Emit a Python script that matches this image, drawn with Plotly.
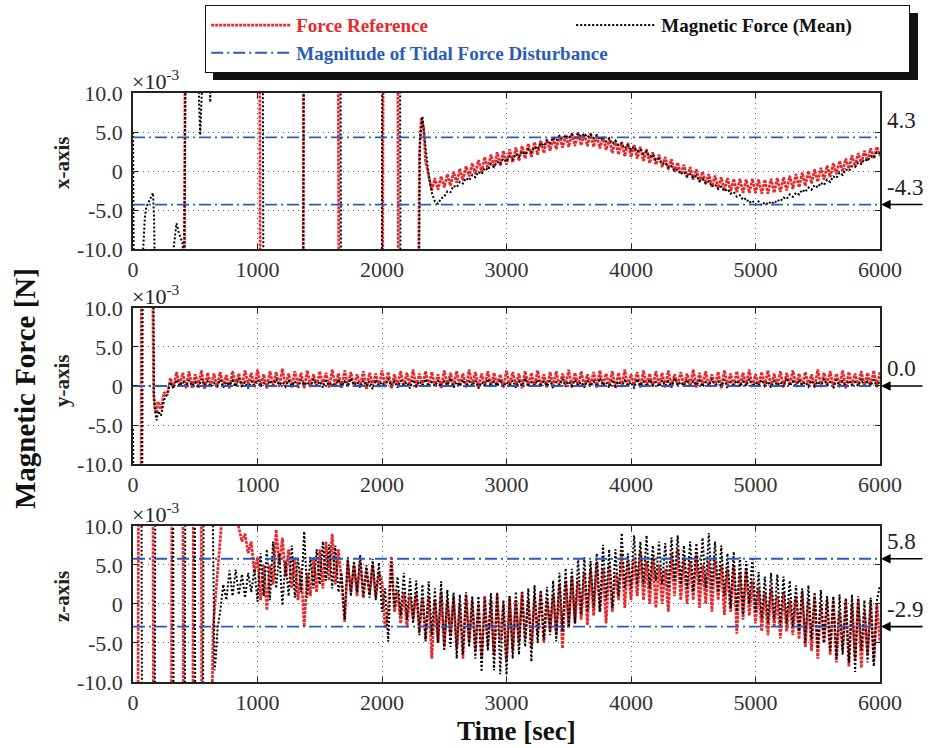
import plotly.graph_objects as go

FONT = "Liberation Serif, Times New Roman, serif"
RED = "#e8282b"
BLACK = "#000000"
BLUE = "#2b5db8"
STEP = 25  # seconds between samples of the dense records

# ---------------- common axis data ----------------
TIME_TICKS = [0, 1000, 2000, 3000, 4000, 5000, 6000]
FORCE_TICKS = [-10, -5, 0, 5, 10]
FORCE_TICK_TEXT = ["-10.0", "-5.0", "0", "5.0", "10.0"]

# ---------------- x-axis panel (values in 1e-3 N) ----------------
X_REF_EARLY_T = [0, 412, 420, 1016, 1024, 1365, 1372, 1647, 1655, 2004, 2011, 2125, 2133, 2288, 2300, 2315, 2335]
X_REF_EARLY_V = [-30, -30, 30, 30, -30, -30, 30, 30, -30, -30, 30, 30, -30, -30, 2.0, 6.8, 5.5]
X_REF_T0 = 2350
X_REF = [
    1.2, -0.6, -2.5, -0.9, -2.4, -0.7, -2.1, -0.4, -1.9, -0.1,
    -1.5, 0.3, -1.2, 0.6, -0.7, 1.0, -0.4, 1.4, -0.1, 1.8,
    0.3, 2.1, 0.5, 2.4, 0.7, 2.6, 0.8, 2.8, 1.1, 3.0,
    1.3, 3.2, 1.6, 3.5, 1.8, 3.7, 2.1, 3.9, 2.3, 4.1,
    2.6, 4.3, 2.8, 4.5, 3.0, 4.6, 3.1, 4.8, 3.2, 4.9,
    3.3, 4.8, 3.2, 4.8, 3.1, 4.6, 2.9, 4.4, 2.7, 4.1,
    2.3, 3.9, 2.1, 3.7, 1.9, 3.6, 1.8, 3.4, 1.6, 3.1,
    1.3, 2.8, 1.0, 2.4, 0.8, 2.1, 0.5, 1.8, 0.2, 1.5,
    -0.1, 1.1, -0.4, 0.8, -0.8, 0.5, -1.1, 0.2, -1.4, -0.1,
    -1.6, -0.4, -2.0, -0.6, -2.2, -0.8, -2.5, -0.9, -2.6, -1.0,
    -2.7, -1.0, -2.8, -1.1, -2.8, -1.0, -2.8, -1.1, -2.9, -1.1,
    -2.9, -1.0, -2.8, -0.9, -2.7, -0.8, -2.5, -0.6, -2.3, -0.4,
    -2.1, -0.2, -1.9, 0.0, -1.6, 0.2, -1.4, 0.4, -1.1, 0.7,
    -0.8, 1.0, -0.4, 1.3, -0.1, 1.6, 0.3, 2.0, 0.6, 2.3,
    1.0, 2.6, 1.3, 2.9, 1.6, 3.1, 1.9,
]
X_MAG_EARLY_T = [0, 12, 72, 80, 95, 107, 134, 161, 169, 180, 190, 315, 322, 349, 370, 397, 410, 430,
                 520, 530, 540, 550, 560, 610, 620, 630, 1040, 1050, 1366, 1373, 1665, 1673, 1997,
                 2004, 2143, 2151, 2290, 2305, 2325, 2340]
X_MAG_EARLY_V = [5.0, -30, -30, -10.5, -6.0, -4.6, -3.7, -2.8, -5.9, -12, -30, -30, -10.5, -6.7, -8.0, -9.2, -12, 30,
                 30, 9.0, 4.6, 9.0, 30, 30, 8.8, 30, 30, -30, -30, 30, 30, -30, -30,
                 30, 30, -30, -30, 4.0, 7.0, 5.0]
X_MAG_T0 = 2350
X_MAG = [
    3.0, -0.5, -2.8, -3.9, -4.2, -3.5, -3.3, -2.6, -2.7, -1.9,
    -2.1, -1.4, -1.6, -0.9, -1.2, -0.5, -0.8, -0.1, -0.4, 0.4,
    0.1, 0.9, 0.5, 1.2, 0.9, 1.6, 1.2, 1.9, 1.5, 2.2,
    1.8, 2.5, 2.1, 2.8, 2.4, 3.1, 2.8, 3.6, 3.2, 3.9,
    3.6, 4.3, 3.9, 4.5, 4.1, 4.6, 4.2, 4.7, 4.3, 4.8,
    4.4, 4.8, 4.3, 4.7, 4.2, 4.6, 4.0, 4.4, 3.8, 4.2,
    3.5, 3.9, 3.3, 3.6, 2.9, 3.3, 2.7, 3.1, 2.5, 2.8,
    2.2, 2.5, 1.8, 2.1, 1.4, 1.6, 0.9, 1.1, 0.4, 0.6,
    0.0, 0.2, -0.4, -0.1, -0.7, -0.4, -0.9, -0.6, -1.3, -1.0,
    -1.6, -1.3, -2.0, -1.7, -2.3, -2.0, -2.6, -2.3, -2.9, -2.7,
    -3.3, -3.1, -3.7, -3.5, -4.1, -3.8, -4.3, -3.9, -4.4, -4.0,
    -4.3, -3.9, -4.2, -3.7, -3.9, -3.4, -3.6, -3.0, -3.3, -2.8,
    -3.0, -2.4, -2.7, -2.1, -2.4, -1.8, -2.1, -1.5, -1.8, -1.1,
    -1.4, -0.7, -0.9, -0.2, -0.5, 0.2, 0.0, 0.6, 0.5, 1.1,
    0.9, 1.5, 1.3, 1.9, 1.7, 2.4, 2.2,
]
X_TIDAL = [4.3, -4.3]
X_ARROWS = [-4.3]

# ---------------- y-axis panel ----------------
Y_REF_EARLY_T = [0, 62, 70, 150, 165, 175, 185]
Y_REF_EARLY_V = [-30, -30, 30, 30, -1.0, -2.8, -3.5]
Y_REF_T0 = 200
Y_REF = [
    -2.0, -3.0, -0.8, -1.2, 1.0, -0.2, 1.8, 0.0, 1.7, -0.3,
    1.9, -0.3, 1.5, 0.1, 2.0, -0.4, 1.7, 0.0, 1.6, -0.2,
    1.8, 0.1, 1.4, -0.3, 1.9, 0.0, 1.6, -0.1, 2.0, 0.2,
    1.7, -0.2, 2.1, 0.0, 1.5, -0.3, 1.9, 0.1, 1.8, -0.1,
    2.2, 0.0, 1.6, -0.2, 1.9, 0.1, 1.7, -0.3, 2.0, 0.0,
    1.5, -0.1, 1.9, 0.2, 1.7, -0.2, 2.1, 0.0, 1.6, -0.3,
    2.0, 0.1, 1.8, -0.1, 1.5, 0.0, 1.9, -0.4, 1.7, 0.1,
    1.6, -0.2, 2.0, 0.0, 1.8, -0.3, 1.5, 0.1, 1.9, -0.1,
    1.7, 0.0, 2.1, -0.2, 1.6, 0.1, 1.9, -0.1, 1.8, 0.0,
    1.5, -0.3, 2.0, 0.1, 1.7, -0.1, 1.9, 0.0, 1.6, -0.2,
    2.1, 0.1, 1.8, -0.2, 1.6, 0.0, 1.9, -0.1, 1.7, 0.1,
    1.5, -0.2, 2.0, 0.0, 1.8, 0.1, 1.6, -0.3, 1.9, 0.0,
    1.7, -0.1, 2.0, 0.1, 1.5, -0.2, 1.8, 0.0, 1.9, -0.1,
    1.6, 0.1, 2.1, -0.2, 1.7, 0.0, 1.9, -0.1, 1.5, 0.1,
    1.8, -0.2, 2.0, 0.0, 1.6, 0.1, 1.9, -0.3, 1.7, 0.0,
    2.1, -0.1, 1.5, 0.1, 1.8, -0.2, 2.0, 0.0, 1.6, -0.1,
    1.9, 0.1, 1.7, -0.2, 2.0, 0.0, 1.5, 0.1, 1.8, -0.1,
    1.6, 0.0, 2.1, -0.2, 1.7, 0.1, 1.9, -0.1, 1.5, 0.0,
    1.8, -0.3, 2.0, 0.1, 1.6, -0.1, 1.9, 0.0, 1.7, 0.1,
    2.1, -0.2, 1.5, 0.0, 1.8, 0.1, 2.0, -0.1, 1.6, 0.0,
    1.9, -0.2, 1.7, 0.1, 2.0, 0.0, 1.6, -0.1, 1.8, 0.1,
    1.5, -0.2, 2.1, 0.0, 1.7, 0.1, 1.9, -0.1, 1.6, 0.0,
    2.0, -0.3, 1.8, 0.1, 1.6, 0.0, 1.9, -0.1, 1.7, 0.1,
    2.0, -0.1, 1.8,
]
Y_MAG_EARLY_T = [0, 10, 72, 80, 157, 170, 180, 190]
Y_MAG_EARLY_V = [-5.5, -30, -30, 30, 30, -1.5, -3.5, -4.4]
Y_MAG_T0 = 200
Y_MAG = [
    -3.2, -3.8, -1.8, -1.0, 0.5, -0.3, 0.8, 0.0, 0.6, -0.1,
    0.7, 0.0, 0.5, -0.3, 0.9, 0.1, 0.6, -0.1, 0.4, 0.0,
    0.8, -0.2, 0.5, 0.1, 0.7, -0.1, 1.0, 0.0, 0.5, -0.3,
    0.6, 0.1, 0.8, -0.1, 0.4, 0.0, 0.7, -0.2, 0.9, 0.1,
    0.5, -0.1, 0.7, 0.0, 0.6, -0.3, 0.8, 0.1, 0.5, -0.1,
    0.9, 0.0, 0.6, -0.2, 0.7, 0.1, 0.4, -0.1, 0.8, 0.0,
    0.6, -0.1, 1.0, 0.1, 0.5, -0.2, 0.7, 0.0, 0.6, -0.4,
    0.8, 0.1, 0.5, -0.1, 0.9, 0.0, 0.6, -0.2, 0.7, 0.1,
    0.5, -0.3, 0.8, 0.0, 0.6, 0.1, 0.9, -0.1, 0.5, 0.0,
    0.7, -0.1, 0.6, 0.1, 1.0, -0.2, 0.5, 0.0, 0.8, -0.1,
    0.6, 0.0, 0.7, -0.3, 0.5, 0.1, 0.9, -0.1, 0.6, 0.0,
    0.8, -0.1, 0.5, 0.1, 0.7, -0.2, 0.6, 0.0, 1.0, -0.1,
    0.5, 0.1, 0.8, -0.1, 0.6, 0.0, 0.7, -0.3, 0.5, 0.1,
    0.9, -0.1, 0.6, 0.0, 0.8, 0.1, 0.5, -0.2, 0.7, 0.0,
    0.6, -0.1, 1.0, 0.1, 0.5, -0.2, 0.8, 0.0, 0.6, -0.1,
    0.7, 0.1, 0.5, -0.3, 0.9, 0.0, 0.6, -0.1, 0.8, 0.1,
    0.5, -0.1, 0.7, 0.0, 0.6, -0.2, 1.0, 0.1, 0.5, 0.0,
    0.8, -0.2, 0.6, 0.1, 0.7, -0.1, 0.5, 0.0, 0.9, -0.1,
    0.6, 0.0, 0.8, -0.3, 0.5, 0.1, 0.7, -0.1, 0.6, 0.0,
    0.9, -0.1, 0.5, 0.1, 0.8, 0.0, 0.6, -0.2, 0.7, 0.1,
    0.5, -0.1, 1.0, 0.0, 0.6, -0.2, 0.8, 0.1, 0.5, -0.1,
    0.7, 0.0, 0.6, -0.1, 0.9, 0.1, 0.5, -0.3, 0.8, 0.0,
    0.6, -0.1, 0.7, 0.1, 0.5, 0.0, 0.9, -0.2, 0.6, 0.1,
    0.8, -0.1, 0.7,
]
Y_TIDAL = [0.0]
Y_ARROWS = [0.0]

# ---------------- z-axis panel ----------------
Z_REF_EARLY_T = [0, 38, 46, 158, 166, 306, 314, 399, 407, 479, 487, 546, 554, 622, 643, 660, 680,
                 700, 712, 725, 820, 840]
Z_REF_EARLY_V = [-30, -30, 30, 30, -30, -30, 30, 30, -30, -30, 30, 30, -30, -30, -3.1, 0.5, 4.5,
                 8.0, 10.5, 30, 30, 10.5]
Z_REF_T0 = 850
Z_REF = [
    9.8, 8.0, 9.0, 6.5, 8.0, 4.0, 6.0, 0.5, 5.0, -0.8,
    5.0, 2.5, 9.5, 5.0, 8.5, 3.5, 7.0, 2.0, 6.0, 0.5,
    4.5, -2.9, 4.0, 1.0, 6.0, 1.5, 7.0, 2.0, 8.0, 3.0,
    9.0, 2.5, 7.0, 3.0, -2.3, 5.5, 1.5, 5.0, 1.0, 5.5,
    0.8, 4.5, 1.2, 5.0, 0.8, 4.0, 3.0, -3.1, -1.0, 6.1,
    -1.0, 1.6, -2.5, 1.5, -3.0, 1.0, -2.0, 1.5, -3.5, 0.8,
    -4.5, 1.0, -7.0, 0.5, -5.0, 1.6, -5.5, 0.5, -4.0, 1.0,
    -5.7, 0.0, -7.0, 1.2, -5.0, 0.5, -6.0, 0.0, -7.0, 1.0,
    -5.5, 0.5, -6.5, 1.2, -5.0, 0.0, -7.4, 1.0, -6.0, 0.5,
    -5.0, 1.6, -4.5, 0.5, -5.7, 1.0, -4.0, 1.5, -5.0, 0.5,
    -3.5, 1.2, -4.0, 2.5, -5.7, 2.9, -3.0, 3.5, -2.5, 3.0,
    -2.0, 4.0, -2.7, 4.5, -1.5, 5.4, -1.0, 4.5, -2.5, 5.0,
    -1.0, 4.0, 0.5, 6.5, -0.5, 5.5, 0.5, 6.0, 1.0, 6.7,
    0.5, 5.5, 0.0, 6.0, -0.5, 5.0, 0.0, 4.5, -1.0, 6.5,
    1.0, 7.0, 0.5, 6.0, 0.0, 5.5, 0.5, 6.3, -0.5, 5.0,
    0.0, 5.5, -1.0, 6.0, 0.5, 5.0, -1.4, 4.5, -1.0, 5.0,
    -3.8, 4.0, -2.0, 4.5, -1.5, 3.0, -2.5, 2.0, -3.5, 1.5,
    -4.0, 2.0, -3.0, 1.0, -4.4, 1.5, -3.5, 0.5, -4.0, 1.0,
    -4.5, 1.6, -5.5, 0.5, -6.0, 1.0, -7.0, 0.0, -5.0, 0.5,
    -6.5, 0.7, -7.5, -1.0, -6.0, 0.5, -8.0, 0.0, -7.0, 0.7,
    -8.2, -1.0, -6.5, 0.5, -7.5, 0.0, -5.0,
]
Z_MAG_EARLY_T = [0, 66, 74, 173, 181, 320, 328, 414, 422, 494, 502, 561, 569, 628, 655, 665, 680]
Z_MAG_EARLY_V = [30, 30, -30, -30, 30, 30, -30, -30, 30, 30, -30, -30, 30, 30, -8.5, -7.0, -3.0]
Z_MAG_T0 = 700
Z_MAG = [
    -1.0, 2.5, 0.5, 4.3, 1.0, 4.4, 1.2, 3.8, 0.8, 4.0,
    1.5, 4.5, 0.3, 6.5, 1.0, 7.0, 0.5, 8.0, 2.0, 6.5,
    -0.2, 5.5, 1.0, 7.5, 0.8, 6.0, 1.5, 9.3, 0.8, 6.0,
    2.0, 7.0, 2.5, 8.0, 3.0, 7.6, 2.0, 7.5, 1.5, 4.0,
    -2.0, 6.0, 1.0, 5.5, 1.5, 6.3, 1.0, 5.0, 0.8, 5.8,
    0.5, 5.3, -1.0, 2.0, -4.8, 5.4, -0.5, 3.5, -1.5, 4.0,
    -2.0, 3.3, -2.5, 3.0, -4.0, 2.5, -4.8, 2.9, -4.0, 2.0,
    -5.0, 2.9, -6.0, 1.8, -5.5, 1.5, -7.0, 1.2, -6.5, 1.5,
    -5.5, 1.0, -7.0, 1.0, -8.7, 0.8, -6.0, 1.4, -8.5, 1.5,
    -9.0, 0.5, -9.1, 1.0, -7.0, 1.6, -6.5, 1.5, -5.5, 2.0,
    -7.4, 2.4, -5.0, 1.8, -4.5, 2.2, -4.0, 3.0, -4.8, 4.0,
    -3.5, 4.6, -3.0, 4.5, -2.5, 5.9, -1.4, 6.0, -1.0, 5.5,
    -0.5, 6.5, -1.0, 7.6, 0.5, 7.0, -0.5, 7.0, 1.0, 9.1,
    2.0, 6.5, 2.0, 8.8, 2.5, 8.0, 2.5, 8.8, 2.0, 7.5,
    3.0, 8.0, 2.5, 7.8, 2.0, 8.5, 3.0, 8.8, 2.5, 7.5,
    2.0, 8.0, 1.6, 7.8, 2.5, 8.5, 2.0, 9.1, 2.0, 8.0,
    1.5, 7.5, 1.0, 6.5, -0.5, 6.7, -1.0, 6.0, -1.4, 5.5,
    0.0, 6.0, -1.0, 4.1, -2.0, 3.5, -2.5, 4.0, -2.0, 3.8,
    -2.7, 3.5, -2.5, 3.0, -3.0, 2.4, -3.5, 2.0, -5.0, 2.4,
    -4.5, 1.5, -5.7, 1.8, -5.0, 1.0, -6.0, 1.0, -7.0, 1.2,
    -6.5, 0.8, -7.5, 1.2, -8.7, 1.0, -6.0, 0.5, -7.5, 0.8,
    -8.0, 0.5, 2.4,
]
Z_TIDAL = [5.8, -2.9]
Z_ARROWS = [5.8, -2.9]


def series_time(early_t, t0, dense):
    return list(early_t) + [t0 + STEP * i for i in range(len(dense))]


def tidal_xy(levels):
    xs, ys = [], []
    for lv in levels:
        xs += [TIME_TICKS[0], TIME_TICKS[-1], None]
        ys += [lv, lv, None]
    return xs, ys


panels = [
    dict(name="x-axis", ax="x", ay="y",
         ref_t=series_time(X_REF_EARLY_T, X_REF_T0, X_REF), ref_v=X_REF_EARLY_V + X_REF,
         mag_t=series_time(X_MAG_EARLY_T, X_MAG_T0, X_MAG), mag_v=X_MAG_EARLY_V + X_MAG,
         tidal=X_TIDAL, arrows=X_ARROWS, domain=[0.7351, 1.0], label_y=0.8812),
    dict(name="y-axis", ax="x2", ay="y2",
         ref_t=series_time(Y_REF_EARLY_T, Y_REF_T0, Y_REF), ref_v=Y_REF_EARLY_V + Y_REF,
         mag_t=series_time(Y_MAG_EARLY_T, Y_MAG_T0, Y_MAG), mag_v=Y_MAG_EARLY_V + Y_MAG,
         tidal=Y_TIDAL, arrows=Y_ARROWS, domain=[0.3701, 0.6350], label_y=0.5110),
    dict(name="z-axis", ax="x3", ay="y3",
         ref_t=series_time(Z_REF_EARLY_T, Z_REF_T0, Z_REF), ref_v=Z_REF_EARLY_V + Z_REF,
         mag_t=series_time(Z_MAG_EARLY_T, Z_MAG_T0, Z_MAG), mag_v=Z_MAG_EARLY_V + Z_MAG,
         tidal=Z_TIDAL, arrows=Z_ARROWS, domain=[0.0, 0.2649], label_y=0.1443),
]

fig = go.Figure()
annotations = []
first = True
for p in panels:
    fig.add_trace(go.Scatter(
        x=p["ref_t"], y=p["ref_v"], xaxis=p["ax"], yaxis=p["ay"], mode="lines",
        name="<b><span style='color:%s'>Force Reference</span></b>" % RED,
        line=dict(color=RED, width=2.7, dash="3px,1px"), showlegend=first, legendrank=1,
        legendwidth=270))
    fig.add_trace(go.Scatter(
        x=p["mag_t"], y=p["mag_v"], xaxis=p["ax"], yaxis=p["ay"], mode="lines",
        name="<b><span style='color:#111'>Magnetic Force (Mean)</span></b>",
        line=dict(color=BLACK, width=2.0, dash="2px,2px"), showlegend=first, legendrank=2,
        legendwidth=242))
    tx, ty = tidal_xy(p["tidal"])
    fig.add_trace(go.Scatter(
        x=tx, y=ty, xaxis=p["ax"], yaxis=p["ay"], mode="lines",
        name="<b><span style='color:%s'>Magnitude of Tidal Force Disturbance</span></b>" % BLUE,
        line=dict(color=BLUE, width=1.8, dash="12px,4px,2px,4px"), showlegend=first, legendrank=3,
        legendwidth=270))
    first = False

    yref = p["ay"]
    xref = p["ax"]
    for lv in p["tidal"]:
        annotations.append(dict(x=TIME_TICKS[-1], y=lv, xref=xref, yref=yref, text="%.1f" % lv,
                                showarrow=False, xanchor="left", yanchor="middle", xshift=5, yshift=17,
                                font=dict(family=FONT, size=23, color="#222")))
    for lv in p["arrows"]:
        annotations.append(dict(x=TIME_TICKS[-1], y=lv, xref=xref, yref=yref, text="",
                                showarrow=True, ax=44, ay=0, arrowhead=2, arrowsize=1.2,
                                arrowwidth=1.6, arrowcolor="#000", standoff=1))
    annotations.append(dict(x=0, y=p["domain"][1], xref="paper", yref="paper",
                            text="\u00d710<sup>-3</sup>", showarrow=False, xanchor="left",
                            yanchor="bottom", xshift=-3, yshift=-3,
                            font=dict(family=FONT, size=22, color="#222")))
    annotations.append(dict(x=-0.095, y=p["label_y"], xref="paper", yref="paper",
                            text="<b>%s</b>" % p["name"], textangle=-90, showarrow=False,
                            xanchor="center", yanchor="middle",
                            font=dict(family=FONT, size=21, color="#222")))

annotations.append(dict(x=-0.1446, y=0.499, xref="paper", yref="paper",
                        text="<b>Magnetic Force [N]</b>", textangle=-90, showarrow=False,
                        xanchor="center", yanchor="middle",
                        font=dict(family=FONT, size=29, color="#111")))
annotations.append(dict(x=0.513, y=-0.084, xref="paper", yref="paper",
                        text="<b>Time [sec]</b>", showarrow=False,
                        xanchor="center", yanchor="middle",
                        font=dict(family=FONT, size=27, color="#111")))

axis_common = dict(showline=True, linecolor="#222", linewidth=1.5, mirror="ticks",
                   ticks="inside", ticklen=5, tickcolor="#222", showgrid=True,
                   gridcolor="#666", griddash="1px,4px", gridwidth=1, zeroline=False,
                   tickfont=dict(family=FONT, size=22, color="#333"))

layout = dict(
    width=930, height=748, margin=dict(l=133, r=50, t=93, b=66, autoexpand=False),
    paper_bgcolor="white", plot_bgcolor="white",
    font=dict(family=FONT, size=19, color="#222"),
    annotations=annotations,
    legend=dict(orientation="h", x=0.0964, y=1.1494, xanchor="left", yanchor="top",
                bgcolor="white", bordercolor="#111", borderwidth=1.2,
                entrywidth=270, entrywidthmode="pixels", itemwidth=80,
                tracegroupgap=0, font=dict(family=FONT, size=19), traceorder="normal"),
    shapes=[dict(type="rect", xref="paper", yref="paper", x0=0.1071, x1=1.0509,
                 y0=1.0221, y1=1.1358, fillcolor="#111", line=dict(width=0), layer="above")],
)
for i, p in enumerate(panels):
    suffix = "" if i == 0 else str(i + 1)
    layout["xaxis" + suffix] = dict(axis_common, domain=[0, 1], anchor=p["ay"], range=[0, 6000],
                                    tickvals=TIME_TICKS, ticktext=[str(t) for t in TIME_TICKS])
    layout["yaxis" + suffix] = dict(axis_common, domain=p["domain"], anchor=p["ax"], range=[-10, 10],
                                    tickvals=FORCE_TICKS, ticktext=FORCE_TICK_TEXT,
                                    ticklabelstandoff=4)

fig.update_layout(**layout)
fig.write_html("out.html")
